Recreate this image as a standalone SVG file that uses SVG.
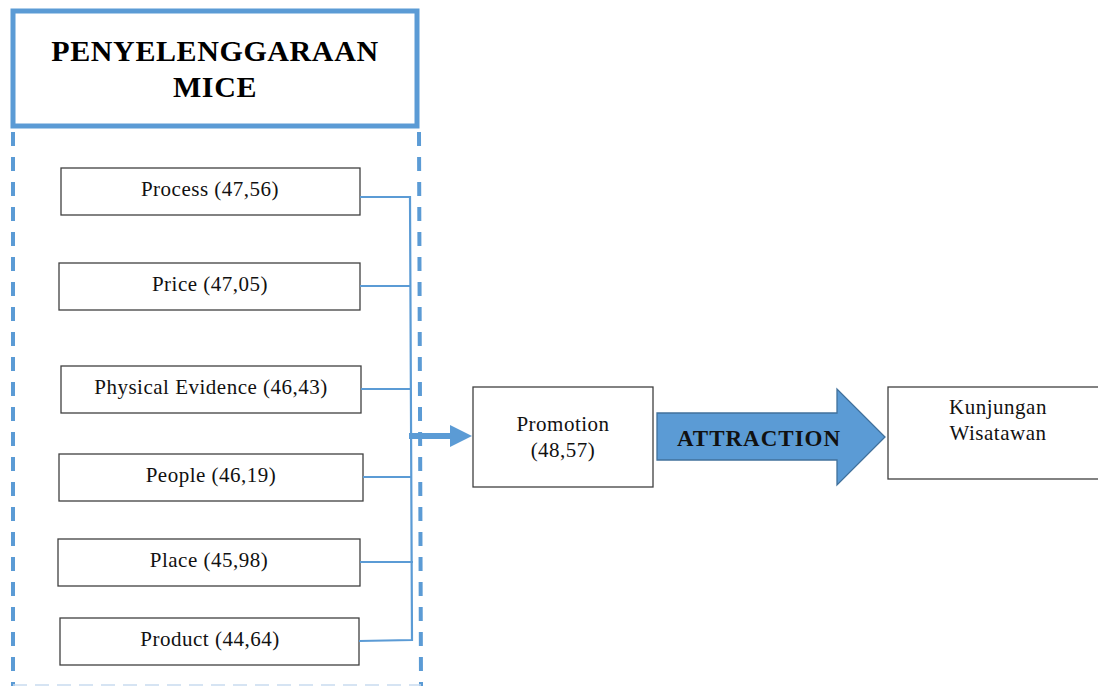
<svg xmlns="http://www.w3.org/2000/svg" width="1098" height="686" viewBox="0 0 1098 686">
<style>
.box{fill:#fff;stroke:#404040;stroke-width:1.3}
.t{font-family:"Liberation Serif",serif;font-size:21px;letter-spacing:0.5px;fill:#111;text-anchor:middle}
.h{font-family:"Liberation Serif",serif;font-size:30px;letter-spacing:0.6px;font-weight:bold;fill:#000;text-anchor:middle}
.c{fill:none;stroke:#5b9bd5;stroke-width:2.2}
.dash{fill:none;stroke:#5b9bd5;stroke-width:4;stroke-dasharray:14,11}
</style>
<rect width="1098" height="686" fill="#fff"/>
<g id="mice-frame">
<rect x="13" y="11" width="404" height="115" fill="#fff" stroke="#5b9bd5" stroke-width="5"/>
<text class="h" x="215" y="61">PENYELENGGARAAN</text>
<text class="h" x="215" y="97">MICE</text>
<line class="dash" x1="13" y1="132" x2="13" y2="686"/>
<line class="dash" x1="419" y1="132" x2="421" y2="686"/>
<line x1="13" y1="685" x2="421" y2="685" stroke="#c9dcf0" stroke-width="1.5" stroke-dasharray="14,8"/>
</g>
<g id="process"><rect class="box" x="61" y="168" width="299" height="47"/><text class="t" x="210" y="196">Process (47,56)</text></g>
<g id="price"><rect class="box" x="59" y="263" width="301" height="47"/><text class="t" x="210" y="291">Price (47,05)</text></g>
<g id="physical"><rect class="box" x="61" y="366" width="300" height="47"/><text class="t" x="211" y="394">Physical Evidence (46,43)</text></g>
<g id="people"><rect class="box" x="59" y="454" width="304" height="47"/><text class="t" x="211" y="482">People (46,19)</text></g>
<g id="place"><rect class="box" x="58" y="539" width="302" height="47"/><text class="t" x="209" y="567">Place (45,98)</text></g>
<g id="product"><rect class="box" x="60" y="618" width="299" height="47"/><text class="t" x="210" y="646">Product (44,64)</text></g>
<g id="promotion"><rect class="box" x="473" y="387" width="180" height="100"/><text class="t" x="563" y="431">Promotion</text><text class="t" x="563" y="457">(48,57)</text></g>
<g id="kunjungan"><rect class="box" x="888" y="387" width="215" height="92"/><text class="t" x="998" y="414">Kunjungan</text><text class="t" x="998" y="440">Wisatawan</text></g>
<g id="connectors">
<polyline class="c" points="360,197 410,197 412,640 359,641"/>
<line class="c" x1="360" y1="286" x2="411" y2="286"/>
<line class="c" x1="361" y1="389" x2="411" y2="389"/>
<line class="c" x1="363" y1="477" x2="412" y2="477"/>
<line class="c" x1="360" y1="562" x2="413" y2="562"/>
<rect x="409" y="433" width="44" height="6" fill="#5b9bd5"/>
<polygon points="450,425 472,436 450,447" fill="#5b9bd5"/>
<g id="attraction">
<polygon points="657,413 837,413 837,389 885,437 837,485 837,460 657,460" fill="#5b9bd5" stroke="#41719c" stroke-width="1.3"/>
<text x="759" y="446" font-family="Liberation Serif,serif" font-size="23" letter-spacing="1" font-weight="bold" fill="#111" text-anchor="middle">ATTRACTION</text>
</g>
</g>
</svg>
